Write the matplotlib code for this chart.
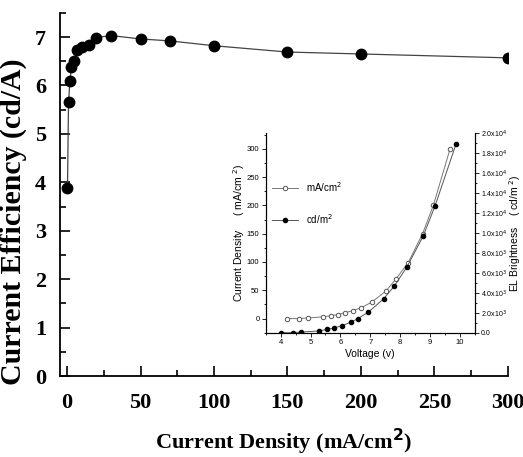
import matplotlib
matplotlib.use("Agg")
import matplotlib.pyplot as plt
from matplotlib.ticker import MultipleLocator, FuncFormatter

# efficiency vs current density
current_density = [0.3, 1, 2, 3, 5, 7, 10, 15, 20, 30, 50, 70, 100, 150, 200, 300]
efficiency = [3.88, 5.65, 6.10, 6.38, 6.51, 6.74, 6.79, 6.84, 6.99, 7.03,
              6.96, 6.92, 6.82, 6.69, 6.65, 6.57]

# J-V curve (inset, left axis)
volt_j = [4.22, 4.63, 4.91, 5.41, 5.69, 5.91, 6.14, 6.41, 6.69, 7.05,
          7.53, 7.86, 8.27, 8.75, 9.11, 9.67]
j_inset = [0, 0, 1, 3, 5, 7, 10, 14, 19, 29, 49, 70, 99, 150, 200, 300]

# L-V curve (inset, right axis)
volt_l = [4.0, 4.43, 4.69, 5.27, 5.56, 5.78, 6.05, 6.34, 6.58, 6.94,
          7.45, 7.81, 8.23, 8.77, 9.17, 9.87]
brightness = [0, 0, 70, 170, 340, 470, 700, 1040, 1400, 2070,
              3400, 4700, 6600, 9680, 12720, 18900]

serif = ["Liberation Serif", "DejaVu Serif"]
sans = ["Liberation Sans", "DejaVu Sans"]

fig = plt.figure(figsize=(5.23, 4.57), dpi=100)
ax = fig.add_axes([0.1147, 0.177, 0.8563, 0.795])
ax.plot(current_density, efficiency, "-", color="#444444", lw=0.9, zorder=2)
ax.plot(current_density, efficiency, "o", color="black", ms=7.5, zorder=3)

ax.set_xlim(-4.8, 300)
ax.set_ylim(0, 7.5)
ax.xaxis.set_major_locator(MultipleLocator(50))
ax.xaxis.set_minor_locator(MultipleLocator(25))
ax.yaxis.set_major_locator(MultipleLocator(1))
ax.yaxis.set_minor_locator(MultipleLocator(0.5))
ax.tick_params(which="both", direction="in", width=1.2, top=False, right=False)
ax.tick_params(which="major", length=7)
ax.tick_params(axis="x", which="major", pad=12)
ax.tick_params(axis="y", which="major", pad=10)
ax.tick_params(which="minor", length=4)
ax.spines["top"].set_visible(False)
ax.spines["right"].set_visible(False)
for s in ("left", "bottom"):
    ax.spines[s].set_linewidth(1.3)
for lab in ax.get_xticklabels() + ax.get_yticklabels():
    lab.set_family(serif)
    lab.set_fontweight("bold")
    lab.set_fontsize(16)
ax.set_xlabel("Current Density (mA/cm$^{\\mathbf{2}}$)", family=serif,
              fontweight="bold", fontsize=16, labelpad=10)
ax.set_ylabel("Current Efficiency (cd/A)", family=serif,
              fontweight="bold", fontsize=21.5)
ax.yaxis.set_label_coords(-0.074, 0.424)

# inset J-V-L plot
ins = fig.add_axes([0.508, 0.272, 0.400, 0.437])
l1, = ins.plot(volt_j, j_inset, "-o", color="#777777", lw=0.7, ms=3.2,
               mfc="white", mec="#555555", mew=0.7, label="mA/cm$^2$")
ins.set_xlim(3.5, 10.5)
ins.set_ylim(-25, 328)
ins.xaxis.set_major_locator(MultipleLocator(1))
ins.xaxis.set_minor_locator(MultipleLocator(0.5))
ins.yaxis.set_major_locator(MultipleLocator(50))
ins.yaxis.set_minor_locator(MultipleLocator(25))

ins2 = ins.twinx()
l2, = ins2.plot(volt_l, brightness, "-o", color="#555555", lw=0.7, ms=3,
                mfc="black", mec="black", label="cd/m$^2$")
ins2.set_ylim(0, 20000)
ins2.yaxis.set_major_locator(MultipleLocator(2000))
ins2.yaxis.set_minor_locator(MultipleLocator(1000))


def sci_fmt(v, pos):
    if v == 0:
        return "0.0"
    e = 4 if v >= 10000 else 3
    return "%.1fx10$^{%d}$" % (v / 10 ** e, e)


ins2.yaxis.set_major_formatter(FuncFormatter(sci_fmt))

for a in (ins, ins2):
    a.tick_params(which="both", direction="out", width=0.6, labelsize=5.5, pad=1.5)
    a.tick_params(which="major", length=3)
    a.tick_params(which="minor", length=1.5)
    for s in a.spines.values():
        s.set_linewidth(0.8)
    for lab in a.get_xticklabels() + a.get_yticklabels():
        lab.set_family(sans)
ins2.tick_params(labelsize=5)
ins.spines["top"].set_visible(False)
ins2.spines["top"].set_visible(False)

ins.set_xlabel("Voltage (v)", family=sans, fontsize=7.5, labelpad=2)
ins.set_ylabel("Current Density     ( mA/cm $^{2}$)", family=sans,
               fontsize=7.5, labelpad=0)
ins2.set_ylabel("EL Brightness    ( cd/m $^{2}$)", family=sans,
                fontsize=7.5, labelpad=0)

leg = ins.legend(handles=[l1, l2], loc="upper left",
                 bbox_to_anchor=(0.0, 0.80), frameon=False,
                 prop={"family": sans, "size": 7}, handlelength=2.6,
                 labelspacing=1.9, borderaxespad=0.3)

fig.savefig("out.png", dpi=100)
